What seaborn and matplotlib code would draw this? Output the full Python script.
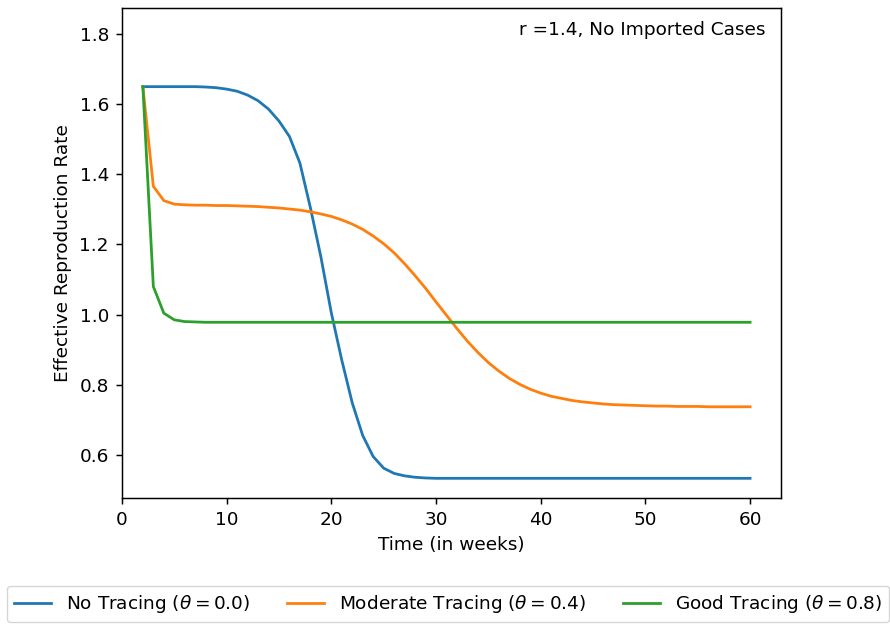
import matplotlib
matplotlib.use("Agg")
import matplotlib.pyplot as plt
import seaborn as sns
import pandas as pd

weeks = list(range(2, 61))

no_tracing = [1.650, 1.650, 1.650, 1.650, 1.650, 1.650, 1.649, 1.647, 1.643, 1.637,
              1.626, 1.610, 1.586, 1.552, 1.508, 1.432, 1.305, 1.165, 1.005, 0.870,
              0.748, 0.655, 0.595, 0.562, 0.547, 0.540, 0.536, 0.534, 0.533, 0.533,
              0.533, 0.533, 0.533, 0.533, 0.533, 0.533, 0.533, 0.533, 0.533, 0.533,
              0.533, 0.533, 0.533, 0.533, 0.533, 0.533, 0.533, 0.533, 0.533, 0.533,
              0.533, 0.533, 0.533, 0.533, 0.533, 0.533, 0.533, 0.533, 0.533]

moderate_tracing = [1.650, 1.366, 1.325, 1.315, 1.313, 1.312, 1.312, 1.311, 1.311, 1.310,
                    1.309, 1.308, 1.306, 1.304, 1.301, 1.298, 1.293, 1.287, 1.280, 1.270,
                    1.258, 1.243, 1.224, 1.202, 1.176, 1.145, 1.111, 1.075, 1.036, 0.998,
                    0.960, 0.924, 0.892, 0.863, 0.839, 0.818, 0.801, 0.787, 0.776, 0.767,
                    0.761, 0.755, 0.751, 0.748, 0.745, 0.743, 0.742, 0.741, 0.740, 0.739,
                    0.739, 0.738, 0.738, 0.738, 0.737, 0.737, 0.737, 0.737, 0.737]

good_tracing = [1.650, 1.080, 1.004, 0.985, 0.980, 0.979, 0.978, 0.978, 0.978, 0.978,
                0.978, 0.978, 0.978, 0.978, 0.978, 0.978, 0.978, 0.978, 0.978, 0.978,
                0.978, 0.978, 0.978, 0.978, 0.978, 0.978, 0.978, 0.978, 0.978, 0.978,
                0.978, 0.978, 0.978, 0.978, 0.978, 0.978, 0.978, 0.978, 0.978, 0.978,
                0.978, 0.978, 0.978, 0.978, 0.978, 0.978, 0.978, 0.978, 0.978, 0.978,
                0.978, 0.978, 0.978, 0.978, 0.978, 0.978, 0.978, 0.978, 0.978]

labels = [r"No Tracing ($\theta = 0.0$)",
          r"Moderate Tracing ($\theta = 0.4$)",
          r"Good Tracing ($\theta = 0.8$)"]
colors = ["#1f77b4", "#ff7f0e", "#2ca02c"]

s = 1.33
plt.rcParams.update({
    "font.size": 10 * s,
    "axes.linewidth": 0.8 * s,
    "xtick.major.size": 3.5 * s, "ytick.major.size": 3.5 * s,
    "xtick.major.width": 0.8 * s, "ytick.major.width": 0.8 * s,
    "xtick.major.pad": 3.5 * s, "ytick.major.pad": 3.5 * s,
    "axes.labelpad": 4.0 * s,
    "legend.fontsize": 10 * s,
    "xtick.labelsize": 10 * s, "ytick.labelsize": 10 * s,
    "axes.labelsize": 10 * s,
})

frames = []
for lab, vals in zip(labels, [no_tracing, moderate_tracing, good_tracing]):
    frames.append(pd.DataFrame({"week": weeks, "R": vals, "scenario": lab}))
df = pd.concat(frames, ignore_index=True)

fig = plt.figure(figsize=(8.9, 6.24), dpi=100)
ax = fig.add_axes([0.137, 0.202, 0.7405, 0.785])

sns.lineplot(data=df, x="week", y="R", hue="scenario", hue_order=labels,
             palette=colors, ax=ax, linewidth=1.5 * s)

ax.set_xlim(0, 62.95)
ax.set_ylim(0.477, 1.874)
ax.set_xlabel("Time (in weeks)")
ax.set_ylabel("Effective Reproduction Rate")
ax.text(0.977, 0.955, "r =1.4, No Imported Cases", transform=ax.transAxes,
        ha="right", va="center")

handles, labs = ax.get_legend_handles_labels()
ax.get_legend().remove()
fig.legend(handles, labs, loc="center", ncol=3, bbox_to_anchor=(0.5035, 0.032),
           frameon=True)

fig.savefig("out.png", dpi=100)
